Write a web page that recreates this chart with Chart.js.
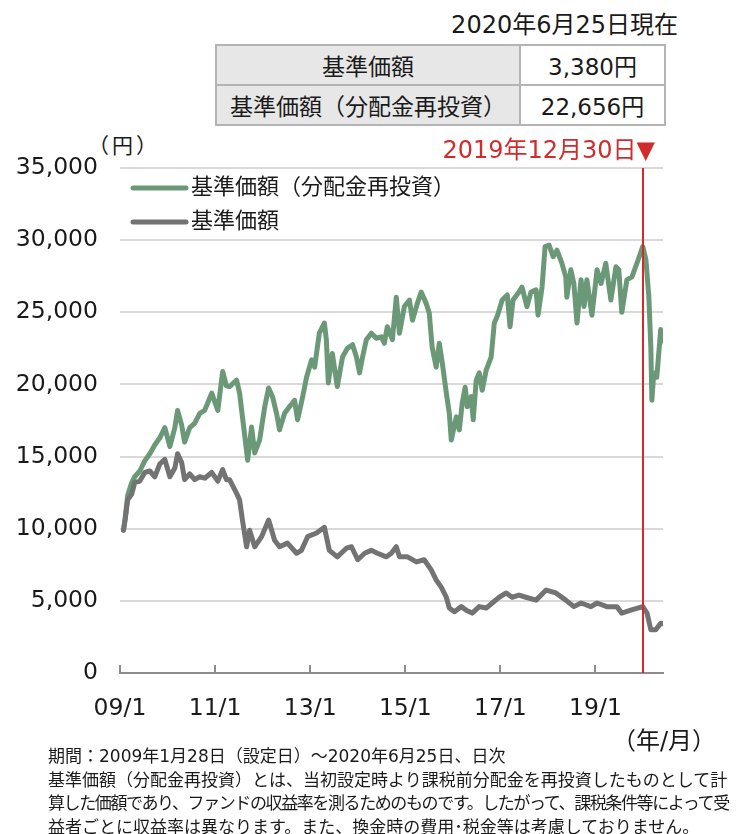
<!DOCTYPE html>
<html lang="ja">
<head>
<meta charset="utf-8">
<title>基準価額の推移</title>
<script src="https://cdn.jsdelivr.net/npm/chart.js@4.4.1/dist/chart.umd.min.js"></script>
<style>
  html, body { margin: 0; padding: 0; background: #fff; }
  body {
    width: 740px; height: 834px; position: relative; overflow: hidden;
    font-family: "DejaVu Sans", "Noto Sans CJK JP", sans-serif; color: #1a1a1a;
    text-spacing-trim: space-all;
  }
  #chart { position: absolute; left: 0; top: 0; }
  .asof { position: absolute; right: 62px; top: 5px; font-size: 24px; }
  table { position: absolute; left: 215px; top: 44px; border-collapse: collapse; font-size: 23px; }
  td { border: 2px solid #b4b4b4; height: 38px; padding: 0; text-align: center; }
  td.name { background: #e7e7e7; width: 302px; }
  td.val { width: 143px; }
  .unit-y { position: absolute; left: 88px; top: 129px; font-size: 21px; letter-spacing: 3px; }
  .unit-x { position: absolute; left: 612px; top: 721px; font-size: 24px; }
  .note {
    position: absolute; left: 48px; top: 745px; font-size: 17px; line-height: 23.5px;
    white-space: nowrap;
  }
  .note .tight { letter-spacing: -1.4px; }
</style>
</head>
<body>
<div class="asof">2020年6月25日現在</div>
<table>
  <tr><td class="name">基準価額</td><td class="val">3,380円</td></tr>
  <tr><td class="name">基準価額（分配金再投資）</td><td class="val">22,656円</td></tr>
</table>
<div class="unit-y">（円）</div>
<canvas id="chart" width="740" height="834"></canvas>
<div class="unit-x">（年/月）</div>
<div class="note">
  期間：2009年1月28日（設定日）～2020年6月25日、日次<br>
  基準価額（分配金再投資）とは、当初設定時より課税前分配金を再投資したものとして計<br>
  <span class="tight">算した価額であり、ファンドの収益率を測るためのものです。したがって、課税条件等によって受</span><br>
  益者ごとに収益率は異なります。また、換金時の費用･税金等は考慮しておりません。
</div>

<script>
// 基準価額（分配金再投資）
const reinvestDates = [
  '2009-01-28', '2009-02-09', '2009-03-01', '2009-04-01', '2009-04-24', '2009-06-02', '2009-07-10',
  '2009-08-18', '2009-09-25', '2009-11-03', '2009-12-11', '2010-01-19', '2010-02-26', '2010-03-19',
  '2010-04-19', '2010-05-12', '2010-06-20', '2010-07-28', '2010-09-05', '2010-10-13', '2010-12-06',
  '2011-01-22', '2011-02-28', '2011-03-29', '2011-04-22', '2011-06-15', '2011-07-08', '2011-07-30',
  '2011-09-08', '2011-10-08', '2011-11-01', '2011-12-09', '2012-01-17', '2012-02-16', '2012-03-17',
  '2012-04-17', '2012-05-10', '2012-06-18', '2012-07-25', '2012-09-03', '2012-09-26', '2012-11-04',
  '2012-12-04', '2013-01-12', '2013-02-04', '2013-03-12', '2013-04-20', '2013-05-05', '2013-05-20',
  '2013-06-20', '2013-07-28', '2013-09-06', '2013-10-14', '2013-11-22', '2013-12-22', '2014-01-15',
  '2014-02-07', '2014-03-08', '2014-04-15', '2014-05-23', '2014-07-01', '2014-07-24', '2014-08-16',
  '2014-09-24', '2014-10-24', '2014-11-17', '2014-12-25', '2015-02-02', '2015-02-25', '2015-04-03',
  '2015-05-03', '2015-06-11', '2015-07-04', '2015-07-26', '2015-08-26', '2015-09-19', '2015-10-12',
  '2015-11-12', '2015-12-05', '2015-12-20', '2016-01-28', '2016-02-20', '2016-03-13', '2016-04-05',
  '2016-04-21', '2016-05-21', '2016-06-06', '2016-06-29', '2016-07-22', '2016-08-14', '2016-09-14',
  '2016-10-22', '2016-11-15', '2016-12-07', '2017-01-15', '2017-02-23', '2017-03-16', '2017-04-08',
  '2017-05-24', '2017-06-16', '2017-07-24', '2017-08-24', '2017-10-02', '2017-10-17', '2017-11-17',
  '2017-12-10', '2018-01-10', '2018-02-10', '2018-03-11', '2018-04-18', '2018-05-18', '2018-05-26',
  '2018-06-26', '2018-07-19', '2018-08-12', '2018-09-12', '2018-10-05', '2018-10-27', '2018-12-05',
  '2019-01-13', '2019-02-13', '2019-03-21', '2019-04-29', '2019-06-07', '2019-06-29', '2019-07-22',
  '2019-08-30', '2019-10-08', '2019-11-15', '2019-12-30', '2020-01-23', '2020-02-15', '2020-03-01',
  '2020-03-09', '2020-03-24', '2020-04-16', '2020-05-16', '2020-06-25'
];
const reinvestValues = [
  9900, 10700, 12300, 13200, 13600, 14000, 14700,
  15200, 15800, 16300, 17000, 15700, 17000, 18200,
  17200, 16000, 17000, 17300, 18000, 18200, 19400,
  18200, 20900, 19900, 19850, 20300, 19400, 17750,
  14750, 17050, 15250, 16150, 18450, 19750, 19150,
  18000, 16850, 18000, 18450, 18900, 17550, 19150,
  20500, 21700, 21200, 23550, 24250, 23100, 20100,
  22150, 19850, 21900, 22500, 22750, 21900, 20800,
  21900, 23100, 23550, 23200, 23300, 22850, 24000,
  23100, 26050, 23550, 25400, 25850, 24450, 25600,
  26400, 25600, 24950, 22600, 21200, 22850, 21500,
  19400, 18000, 16150, 17750, 16850, 18700, 19800,
  18450, 19150, 17550, 20300, 20800, 19600, 21000,
  21900, 24250, 24700, 25850, 26200, 24000, 25850,
  26400, 26750, 25400, 26400, 26550, 24800, 26750,
  29550, 29650, 28850, 29300, 28400, 27450, 26050,
  27950, 27000, 24250, 27250, 25400, 27250, 24800,
  27950, 27000, 28400, 25850, 28150, 27950, 25000,
  27250, 27450, 28400, 29550, 28650, 26050, 22600,
  18900, 20800, 20500, 23800, 22656
];

// 基準価額
const navDates = [
  '2009-01-28', '2009-02-09', '2009-03-01', '2009-04-01', '2009-04-24', '2009-06-02', '2009-07-10',
  '2009-08-18', '2009-09-25', '2009-11-03', '2009-12-11', '2010-01-19', '2010-02-26', '2010-03-19',
  '2010-04-19', '2010-05-12', '2010-06-20', '2010-07-28', '2010-09-05', '2010-10-13', '2010-12-06',
  '2011-01-22', '2011-02-28', '2011-03-29', '2011-04-22', '2011-06-15', '2011-07-08', '2011-07-30',
  '2011-08-31', '2011-09-23', '2011-11-01', '2011-12-24', '2012-02-16', '2012-04-02', '2012-05-10',
  '2012-07-10', '2012-09-18', '2012-10-26', '2012-12-12', '2013-02-19', '2013-04-20', '2013-05-28',
  '2013-07-28', '2013-10-06', '2013-11-14', '2014-01-01', '2014-02-23', '2014-04-15', '2014-06-01',
  '2014-08-09', '2014-09-16', '2014-10-24', '2014-11-17', '2015-01-18', '2015-03-27', '2015-05-26',
  '2015-07-19', '2015-08-26', '2015-10-04', '2015-11-12', '2015-12-05', '2016-01-13', '2016-03-06',
  '2016-04-13', '2016-05-29', '2016-07-22', '2016-09-14', '2016-10-30', '2016-12-23', '2017-02-15',
  '2017-04-01', '2017-05-24', '2017-07-16', '2017-10-02', '2017-12-18', '2018-03-03', '2018-05-18',
  '2018-07-19', '2018-09-12', '2018-11-27', '2019-01-13', '2019-03-29', '2019-06-14', '2019-07-22',
  '2019-09-29', '2019-12-30', '2020-02-01', '2020-03-01', '2020-04-08', '2020-05-16', '2020-06-25'
];
const navValues = [
  9900, 10600, 12000, 12400, 13200, 13300, 13900,
  14000, 13600, 14500, 14800, 13600, 14200, 15200,
  14600, 13400, 13800, 13400, 13600, 13500, 13900,
  13300, 14100, 13400, 13400, 12450, 12000, 10600,
  8750, 9900, 8750, 9450, 10600, 9200, 8750,
  9000, 8300, 8500, 9450, 9700, 10100, 8500,
  8050, 8650, 8750, 7850, 8300, 8500, 8300,
  8050, 8300, 8750, 8050, 8050, 7700, 7850,
  7150, 6450, 5950, 5250, 4500, 4250, 4600,
  4350, 4150, 4600, 4500, 4850, 5250, 5550,
  5250, 5400, 5250, 5050, 5750, 5550, 5050,
  4600, 4850, 4600, 4850, 4600, 4600, 4150,
  4350, 4600, 4150, 3000, 3000, 3450, 3380
];

const xTickYears = [2009, 2011, 2013, 2015, 2017, 2019];
const xTickLabels = ['09/1', '11/1', '13/1', '15/1', '17/1', '19/1'];
const markerDate = '2019-12-30';
const markerLabel = '2019年12月30日▼';

const GREEN = '#6b9977';
const GRAY = '#737373';
const RED = '#d12b2b';
const FONT = '"DejaVu Sans", "Noto Sans CJK JP", sans-serif';

// 'YYYY-MM-DD' -> decimal year for the linear x axis
function toYear(s) {
  const [y, m, d] = s.split('-').map(Number);
  const start = Date.UTC(y, 0, 1);
  const end = Date.UTC(y + 1, 0, 1);
  return y + (Date.UTC(y, m - 1, d) - start) / (end - start);
}

function toPoints(dates, values) {
  return dates.map((d, i) => ({ x: toYear(d), y: values[i] }));
}

const overlay = {
  id: 'overlay',
  afterDatasetsDraw(chart) {
    const ctx = chart.ctx;
    const area = chart.chartArea;
    const xs = chart.scales.x;

    // small ticks pointing up from the date axis
    ctx.save();
    ctx.strokeStyle = '#8c8c8c';
    ctx.lineWidth = 2;
    xTickYears.forEach(v => {
      const px = Math.round(xs.getPixelForValue(v));
      ctx.beginPath();
      ctx.moveTo(px, area.bottom);
      ctx.lineTo(px, area.bottom - 8);
      ctx.stroke();
    });

    // 2019/12/30 marker line
    const mx = Math.round(xs.getPixelForValue(toYear(markerDate)));
    ctx.strokeStyle = RED;
    ctx.lineWidth = 2;
    ctx.beginPath();
    ctx.moveTo(mx, area.top);
    ctx.lineTo(mx, area.bottom);
    ctx.stroke();
    ctx.fillStyle = RED;
    ctx.font = '24px ' + FONT;
    ctx.textAlign = 'right';
    ctx.textBaseline = 'middle';
    ctx.fillText(markerLabel, mx + 12, area.top - 16);

    // legend inside the plot
    ctx.font = '22px ' + FONT;
    ctx.textAlign = 'left';
    ctx.fillStyle = '#1a1a1a';
    ctx.lineCap = 'round';
    chart.data.datasets.forEach((ds, i) => {
      const y = area.top + 20 + i * 34;
      ctx.strokeStyle = ds.borderColor;
      ctx.lineWidth = 5;
      ctx.beginPath();
      ctx.moveTo(area.left + 13, y);
      ctx.lineTo(area.left + 66, y);
      ctx.stroke();
      ctx.fillText(ds.label, area.left + 71, y);
    });
    ctx.restore();
  }
};

new Chart(document.getElementById('chart'), {
  type: 'line',
  data: {
    datasets: [
      {
        label: '基準価額（分配金再投資）',
        data: toPoints(reinvestDates, reinvestValues),
        borderColor: GREEN,
        backgroundColor: GREEN,
        borderWidth: 5,
        order: 2
      },
      {
        label: '基準価額',
        data: toPoints(navDates, navValues),
        borderColor: GRAY,
        backgroundColor: GRAY,
        borderWidth: 5,
        order: 1
      }
    ]
  },
  options: {
    responsive: false,
    animation: false,
    events: [],
    layout: { padding: { left: 0, right: 77, top: 168, bottom: 101 } },
    elements: {
      point: { radius: 0 },
      line: { tension: 0, borderJoinStyle: 'round', borderCapStyle: 'round' }
    },
    plugins: {
      legend: { display: false },
      tooltip: { enabled: false }
    },
    scales: {
      x: {
        type: 'linear',
        min: 2009,
        max: 2020.42,
        afterFit: s => { s.height = 60; },
        afterBuildTicks: s => { s.ticks = xTickYears.map(v => ({ value: v })); },
        grid: { display: false },
        border: { display: true, color: '#8c8c8c', width: 2 },
        ticks: {
          padding: 14,
          maxRotation: 0,
          autoSkip: false,
          color: '#1a1a1a',
          font: { family: FONT, size: 23.5 },
          callback: v => xTickLabels[xTickYears.indexOf(v)]
        }
      },
      y: {
        min: 0,
        max: 35000,
        afterFit: s => { s.width = 120; },
        grid: { color: '#d9d9d9', lineWidth: 2, drawTicks: false },
        border: { display: false },
        ticks: {
          stepSize: 5000,
          padding: 22,
          color: '#1a1a1a',
          font: { family: FONT, size: 23.5 },
          callback: v => v.toLocaleString('en-US')
        }
      }
    }
  },
  plugins: [overlay]
});
</script>
</body>
</html>
